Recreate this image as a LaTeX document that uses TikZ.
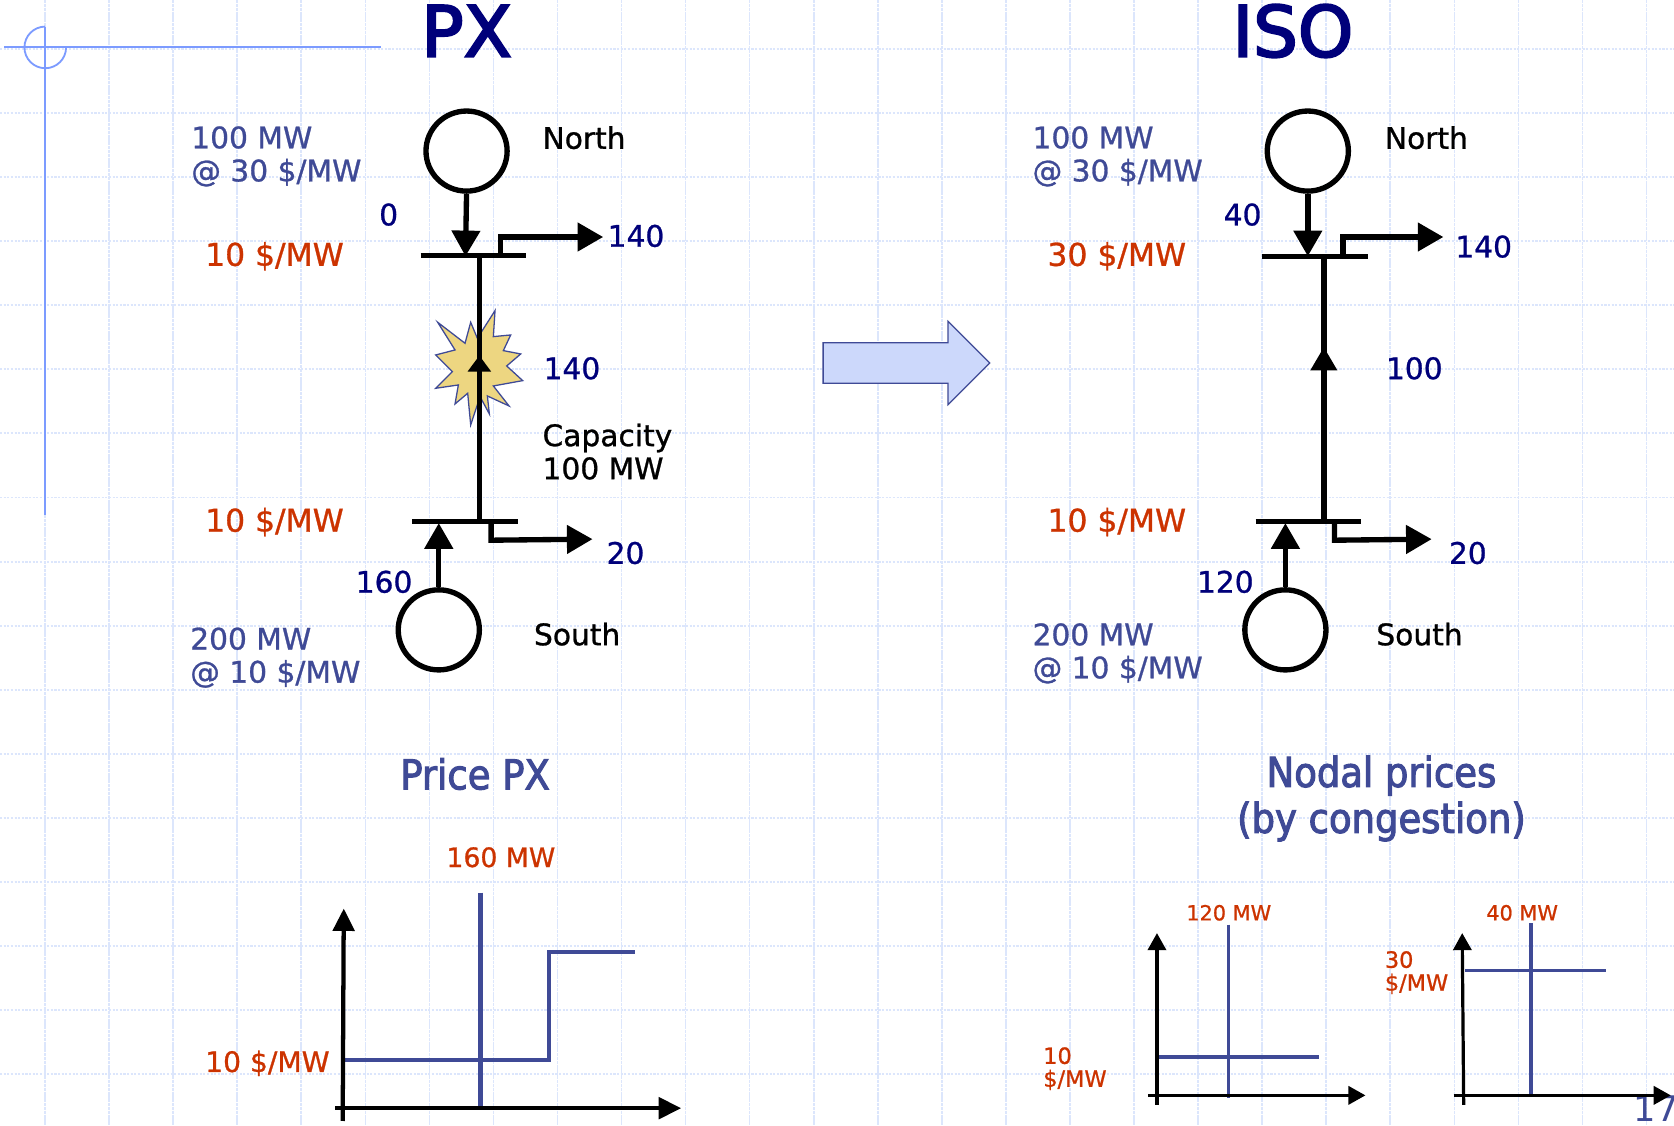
\documentclass[tikz,border=0pt]{standalone}
\usepackage{fontspec}
\setmainfont{DejaVu Sans}[FakeBold=0.9]
\newfontfamily\headfont{DejaVu Sans}[FakeBold=3]
\newfontfamily\subfont{DejaVu Sans Condensed}[FakeBold=2.5]
\newfontfamily\plainfont{DejaVu Sans}
\usetikzlibrary{arrows.meta,shapes.geometric}
\definecolor{navy}{HTML}{00007A}
\definecolor{slate}{HTML}{3F4A96}
\definecolor{redlab}{HTML}{CC3300}
\definecolor{gridc}{HTML}{DCE6FC}
\definecolor{rule}{HTML}{7C9BFF}
\definecolor{starfill}{HTML}{EDD681}
\definecolor{arrowfill}{HTML}{CCD8FB}
\tikzset{
  lab/.style={inner sep=0pt,anchor=west,align=left,xshift=-1pt,font=\fontsize{27.8}{31}\selectfont},
  redbig/.style={inner sep=0pt,anchor=west,align=left,xshift=-1pt,text=redlab,font=\fontsize{29.4}{31}\selectfont},
  redmid/.style={inner sep=0pt,anchor=west,align=left,xshift=-1pt,text=redlab,font=\fontsize{25}{31}\selectfont},
  smalllab/.style={inner sep=0pt,anchor=west,align=left,font=\fontsize{19.5}{21}\selectfont,text=redlab},
  smalllabb/.style={inner sep=0pt,anchor=west,align=left,font=\fontsize{21}{21.5}\selectfont,text=redlab},
  title/.style={inner sep=0pt,anchor=center,text=navy,font=\headfont\fontsize{66}{70}\selectfont},
  subtitle/.style={inner sep=0pt,anchor=center,align=center,text=slate,font=\subfont\fontsize{38.5}{43}\selectfont},
  gen/.style={ellipse,draw=black,line width=5pt,minimum width=76pt,minimum height=75pt,inner sep=0pt,fill=white},
  bus/.style={line width=5pt},
  flow/.style={line width=5pt,-{Triangle[length=24pt,width=26pt]}},
  midflow/.style={line width=5pt,-{Triangle[length=15pt,width=21pt]}},
  midflowb/.style={line width=5pt,-{Triangle[length=22pt,width=24pt]}},
  axisline/.style={line width=4pt,-{Triangle[length=21pt,width=20pt]}},
  smallaxis/.style={line width=3pt,-{Triangle[length=16pt,width=17pt]}},
  curve/.style={line width=4pt,draw=slate},
  smallcurve/.style={line width=3pt,draw=slate},
  gridh/.style={draw=gridc,line width=1.8pt,dash pattern=on 2pt off 1.4pt},
  gridv/.style={draw=gridc,line width=1.5pt,dash pattern=on 3pt off .6pt},
  decor/.style={draw=rule,line width=1.7pt},
}
\begin{document}
\begin{tikzpicture}[x=1pt,y=-1pt]
\useasboundingbox (0,0) rectangle (1568,1053.8);
\clip (0,0) rectangle (1568,1053.8);
\fill[white] (0,0) rectangle (1568,1053.8);
% page grid
\foreach \k in {0,...,25} \draw[gridv] ({42.2+60*\k},0) -- ({42.2+60*\k},1054);
\foreach \k in {0,...,16} \draw[gridh] (0,{46+60*\k}) -- (1568,{46+60*\k});
% master decoration
\draw[decor] (4,44.4) -- (357,44.4);
\draw[decor] (42.4,24.9) -- (42.4,482);
\draw[decor] (42.4,24.9) arc[start angle=90,end angle=360,radius=19.5pt];
% titles
\node[title] (tpx) at (437,29) {PX};
\node[title] (tiso) at (1211,29) {ISO};
\node[subtitle] (spx) at (445,725) {Price PX};
\node[subtitle] (siso) at (1294,748) {Nodal prices\\(by congestion)};
% big arrow
\draw[draw=slate,line width=1.2pt,fill=arrowfill] (771,321) -- (888,321) -- (888,301) -- (927,340) -- (888,379) -- (888,359) -- (771,359) -- cycle;
% PX network
\begin{scope}[shift={(374.7,271.6)},x=0.3122pt,y=-0.3122pt]
\draw[draw=slate,line width=1.2pt,fill=starfill] (285,62) -- (280,140) -- (332,135) -- (310,182) -- (362,192) -- (320,228) -- (368,272) -- (280,288) -- (327,348) -- (262,318) -- (268,372) -- (240,320) -- (212,405) -- (203,310) -- (165,342) -- (175,285) -- (107,295) -- (157,245) -- (107,195) -- (165,180) -- (113,97) -- (195,160) -- (212,97) -- (232,145) -- cycle;
\end{scope}
\node[gen] (pxN) at (437,141.5) {};
\node[gen] (pxS) at (411,590) {};
\coordinate (pxb1l) at (394,239.5); \coordinate (pxb1r) at (493,239.5);
\coordinate (pxb2l) at (386,488.5); \coordinate (pxb2r) at (485,488.5);
\coordinate (pxt1) at (436,240); \coordinate (pxt2) at (411,490);
\coordinate (pxl1) at (449,240); \coordinate (pxl2) at (449,488); \coordinate (pxm) at (449,333);
\coordinate (pxo1) at (469,240); \coordinate (pxo1t) at (565,222);
\coordinate (pxo2) at (460,488); \coordinate (pxo2t) at (555,505);
\draw[bus] (pxb1l) -- (pxb1r);
\draw[bus] (pxb2l) -- (pxb2r);
\draw[bus] (pxl1) -- (pxl2);
\draw[midflow] (pxl2) -- (pxm);
\draw[flow] (pxN.south) -- (pxt1);
\draw[flow] (pxS.north) -- (pxt2);
\draw[flow] (pxo1) -- (pxo1 |- pxo1t) -- (pxo1t);
\draw[flow] (pxo2) -- (460,506) -- (pxo2t);
\node[lab,text=slate] (a1) at (180,146.5) {100 MW\\@ 30 \$/MW};
\node[lab] (a2) at (509,129) {North};
\node[lab,text=navy] (a3) at (356,201) {0};
\node[redbig] (a4) at (193,240) {10 \$/MW};
\node[lab,text=navy] (a5) at (570,221) {140};
\node[lab,text=navy] (a6) at (510,345) {140};
\node[lab] (a7) at (509,423) {Capacity\\100 MW};
\node[redbig] (a8) at (193,489) {10 \$/MW};
\node[lab,text=navy] (a9) at (569,518) {20};
\node[lab,text=navy] (a10) at (334,545) {160};
\node[lab] (a11) at (501,594) {South};
\node[lab,text=slate] (a12) at (179,616) {200 MW\\@ 10 \$/MW};
% ISO network
\node[gen] (isoN) at (1225,141.5) {};
\node[gen] (isoS) at (1204,590) {};
\coordinate (isob1l) at (1182,240); \coordinate (isob1r) at (1281,240);
\coordinate (isob2l) at (1176,488.5); \coordinate (isob2r) at (1275,488.5);
\coordinate (isot1) at (1225,240); \coordinate (isot2) at (1204,490);
\coordinate (isol1) at (1240,240); \coordinate (isol2) at (1240,488); \coordinate (isom) at (1240,325);
\coordinate (isoo1) at (1258,240); \coordinate (isoo1t) at (1352,222);
\coordinate (isoo2) at (1250,488); \coordinate (isoo2t) at (1341,505);
\draw[bus] (isob1l) -- (isob1r);
\draw[bus] (isob2l) -- (isob2r);
\draw[bus] (isol1) -- (isol2);
\draw[midflowb] (isol2) -- (isom);
\draw[flow] (isoN.south) -- (isot1);
\draw[flow] (isoS.north) -- (isot2);
\draw[flow] (isoo1) -- (isoo1 |- isoo1t) -- (isoo1t);
\draw[flow] (isoo2) -- (1250,506) -- (isoo2t);
\node[lab,text=slate] (b1) at (968,146.5) {100 MW\\@ 30 \$/MW};
\node[lab] (b2) at (1298,129) {North};
\node[lab,text=navy] (b3) at (1147,201) {40};
\node[redbig] (b4) at (982,240) {30 \$/MW};
\node[lab,text=navy] (b5) at (1364,231) {140};
\node[lab,text=navy] (b6) at (1299,345) {100};
\node[redbig] (b8) at (982,489) {10 \$/MW};
\node[lab,text=navy] (b9) at (1358,518) {20};
\node[lab,text=navy] (b10) at (1122,545) {120};
\node[lab] (b11) at (1290,594) {South};
\node[lab,text=slate] (b12) at (968,612) {200 MW\\@ 10 \$/MW};
% page number, behind the chart arrow
\node[inner sep=0pt,anchor=west,text=slate,font=\plainfont\fontsize{33}{36}\selectfont] (pg) at (1530,1038) {17};
% PX price chart
\node[redmid] (c1) at (419,803) {160 MW};
\node[redmid,font=\fontsize{26.4}{31}\selectfont] (c2) at (193,996) {10 \$/MW};
\coordinate (c0a) at (321,1050); \coordinate (c0b) at (322,851);
\coordinate (c0c) at (314,1038); \coordinate (c0d) at (638,1038);
\coordinate (c0e) at (450,836); \coordinate (c0f) at (450,1037);
\coordinate (c0g) at (322,993); \coordinate (c0h) at (514,993); \coordinate (c0i) at (514,892); \coordinate (c0j) at (595,892);
\draw[curve] (c0e) -- (c0f);
\draw[curve] (c0g) -- (c0h) -- (c0i) -- (c0j);
\draw[axisline] (c0a) -- (c0b);
\draw[axisline] (c0c) -- (c0d);
% ISO chart 1
\node[smalllab] (d1) at (1111,855) {120 MW};
\node[smalllabb] (d2) at (977,1001) {10\\\$/MW};
\coordinate (d0a) at (1083.7,1035); \coordinate (d0b) at (1083.7,874);
\coordinate (d0c) at (1075.6,1026); \coordinate (d0d) at (1279,1026);
\coordinate (d0e) at (1151,866); \coordinate (d0f) at (1151,1028);
\coordinate (d0g) at (1082.5,990); \coordinate (d0h) at (1235.5,990);
\draw[smallcurve] (d0e) -- (d0f);
\draw[smallcurve] (d0g) -- (d0h);
\draw[smallaxis] (d0a) -- (d0b);
\draw[smallaxis] (d0c) -- (d0d);
% ISO chart 2
\node[smalllab] (e1) at (1392,855) {40 MW};
\node[smalllabb] (e2) at (1297,911) {30\\\$/MW};
\coordinate (e0a) at (1371,1035); \coordinate (e0b) at (1369.6,874);
\coordinate (e0c) at (1361.5,1026); \coordinate (e0d) at (1565,1026);
\coordinate (e0e) at (1434,865); \coordinate (e0f) at (1434,1026);
\coordinate (e0g) at (1372.4,909); \coordinate (e0h) at (1504.5,909);
\draw[smallcurve] (e0e) -- (e0f);
\draw[smallcurve] (e0g) -- (e0h);
\draw[smallaxis] (e0a) -- (e0b);
\draw[smallaxis] (e0c) -- (e0d);
\end{tikzpicture}
\end{document}
